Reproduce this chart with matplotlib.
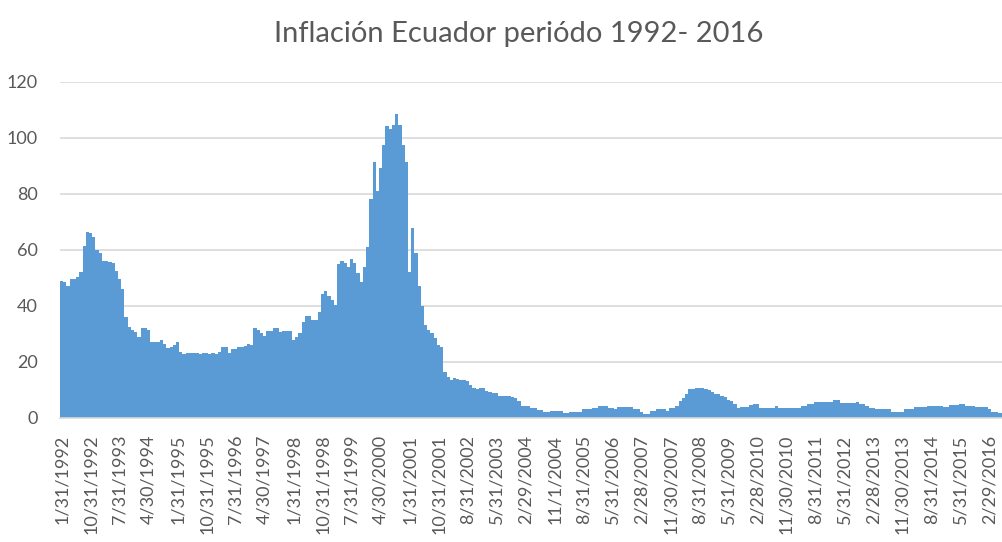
import numpy as np
import matplotlib
matplotlib.use('Agg')
import matplotlib.pyplot as plt

plt.rcParams['font.family'] = ['Lato', 'DejaVu Sans']

# inflación mensual (% anual), ene-1992 en adelante
inflacion = [
    49.0, 48.5, 47.0, 49.5, 49.5, 50.5, 52.0,
    61.5, 66.3, 65.9, 64.5, 60.0,
    58.8, 56.2, 56.2, 55.8, 55.5, 52.5, 49.8, 46.2,
    36.0, 32.4, 31.5, 30.8, 29.0, 32.0, 32.0, 31.5, 27.3, 27.3,
    27.3, 27.9, 26.4, 24.9, 25.5, 26.0, 27.0, 23.7, 22.9, 23.1,
    23.1, 23.1, 23.1, 22.7, 23.1, 23.1, 22.7, 23.1, 22.7, 23.7,
    25.3, 25.3, 23.1, 24.5, 24.8, 25.3, 25.3, 25.8, 26.4, 26.0,
    32.0, 31.5, 30.2, 29.3, 31.2, 31.2, 32.0, 32.0, 30.8, 31.2,
    31.2, 31.2, 27.9, 29.1, 30.5, 34.2, 36.3, 36.3, 35.1, 35.1,
    38.0, 44.4, 45.2, 43.7, 42.3, 40.4, 55.0, 56.2, 55.5, 53.8,
    56.7, 55.5, 51.7, 48.4, 54.1, 61.0, 78.3, 91.3, 81.1, 89.2,
    97.5, 104.4, 103.1, 104.6, 108.5, 104.6, 97.5, 91.4, 52.2, 67.7,
    58.8, 47.0, 40.0, 33.2, 31.5, 30.2, 28.5, 26.0, 25.2, 16.5,
    14.8, 13.6, 14.2, 13.9, 13.4, 13.4, 13.2, 11.8, 10.8, 10.4,
    10.6, 10.6, 9.6, 9.2, 8.8, 8.8, 7.9, 7.9, 7.9, 7.9,
    7.6, 7.1, 5.9, 4.4, 4.4, 4.4, 3.7, 3.5, 2.9, 2.9,
    2.0, 2.2, 2.5, 2.5, 2.5, 2.5, 1.7, 1.7, 2.3, 2.3,
    2.3, 2.3, 3.1, 3.1, 3.1, 3.7, 3.7, 4.3, 4.3, 4.3,
    3.7, 3.7, 3.1, 3.8, 3.8, 3.8, 3.8, 3.8, 3.1, 3.1,
    2.3, 1.5, 1.5, 2.5, 2.5, 3.1, 3.1, 3.1, 2.5, 3.5,
    3.5, 4.4, 5.9, 7.0, 8.4, 10.2, 10.2, 10.6, 10.6, 10.6,
    10.3, 10.0, 9.2, 8.4, 8.4, 8.0, 7.6, 6.4, 6.0, 4.9,
    3.5, 4.1, 4.1, 4.1, 4.6, 5.0, 5.0, 3.7, 3.7, 3.7,
    3.7, 3.7, 4.4, 3.7, 3.7, 3.7, 3.7, 3.7, 3.7, 3.7,
    4.4, 4.4, 5.0, 5.0, 5.8, 5.8, 5.8, 5.8, 5.8, 5.8,
    6.4, 6.4, 5.2, 5.2, 5.2, 5.2, 5.2, 5.6, 4.9, 4.9,
    4.4, 3.7, 3.7, 3.1, 3.1, 3.1, 3.1, 3.1, 2.3, 2.3,
    2.3, 2.3, 3.1, 3.1, 3.1, 3.8, 3.8, 3.8, 3.8, 4.4,
    4.4, 4.4, 4.4, 4.4, 3.9, 3.9, 4.6, 4.6, 4.6, 5.1,
    5.1, 4.4, 4.4, 4.4, 3.8, 3.8, 3.8, 3.8, 3.1, 2.3,
    2.3, 1.7, 1.7,
]

etiquetas = [
    '1/31/1992', '10/31/1992', '7/31/1993', '4/30/1994', '1/31/1995',
    '10/31/1995', '7/31/1996', '4/30/1997', '1/31/1998', '10/31/1998',
    '7/31/1999', '4/30/2000', '1/31/2001', '10/31/2001', '8/31/2002',
    '5/31/2003', '2/29/2004', '11/1/2004', '8/31/2005', '5/31/2006',
    '2/28/2007', '11/30/2007', '8/31/2008', '5/31/2009', '2/28/2010',
    '11/30/2010', '8/31/2011', '5/31/2012', '2/28/2013', '11/30/2013',
    '8/31/2014', '5/31/2015', '2/29/2016',
]
paso = 9
yticks = [0, 20, 40, 60, 80, 100, 120]

gris = '#595959'
fig = plt.figure(figsize=(10.03, 5.42), dpi=100)
ax = fig.add_axes([60 / 1003, 124 / 542, 943 / 1003, 336 / 542])

x = np.arange(len(inflacion))
ax.bar(x, inflacion, width=1.0, color='#5B9BD5', linewidth=0, zorder=2)

ax.set_ylim(0, 120)
ax.set_xlim(-0.5, 292.2)
ax.set_yticks(yticks)
ax.set_yticklabels([str(v) for v in yticks], color=gris, fontsize=13)
ax.set_xticks(np.arange(len(etiquetas)) * paso)
ax.set_xticklabels(etiquetas, rotation=90, color=gris, fontsize=13)
ax.tick_params(axis='both', length=0)
ax.tick_params(axis='x', pad=12)
ax.tick_params(axis='y', pad=16)
ax.yaxis.grid(True, color='#D9D9D9', linewidth=1.2, zorder=0)
for s in ['top', 'right', 'left']:
    ax.spines[s].set_visible(False)
ax.spines['bottom'].set_color('#D9D9D9')
ax.spines['bottom'].set_linewidth(1.2)
ax.set_axisbelow(True)

fig.text(0.517, 0.938, 'Inflación Ecuador periódo 1992- 2016', ha='center', va='center',
         fontsize=21, color=gris)

plt.savefig('out.png', dpi=100)
